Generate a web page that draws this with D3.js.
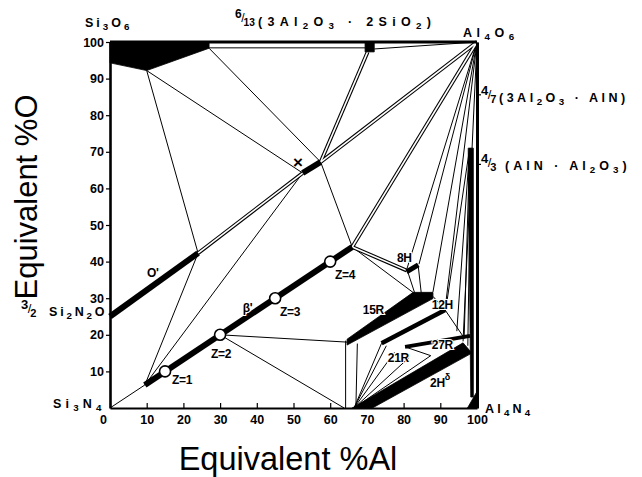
<!DOCTYPE html>
<html>
<head>
<meta charset="utf-8">
<script src="https://cdn.jsdelivr.net/npm/d3@7"></script>
<style>
  body { margin: 0; background: #fff; }
  svg { display: block; font-family: "Liberation Sans", Arial, sans-serif; }
</style>
</head>
<body>
<svg id="chart"></svg>
<script>
// Si-Al-O-N behaviour diagram, compositions as [equivalent %Al, equivalent %O]
const xTicks = [0, 10, 20, 30, 40, 50, 60, 70, 80, 90, 100];
const yTicks = [10, 20, 30, 40, 50, 60, 70, 80, 90, 100];
const rightMarks = [66.7, 85.7];

// filled single phase areas
const liquid = [[0, 100], [27, 100], [27, 98.3], [10, 92.2], [0, 94.3]];
const mullite = [[69.5, 97.3], [72, 97.3], [72, 100], [69.5, 100]];
const poly15R = [[64.6, 18.8], [82.6, 31.6], [88, 31.6], [88, 29.9], [64.6, 17.2]];
const poly2H = [[66, 0], [71.5, 0], [98.6, 15], [96.2, 17.8]];
const polyRight = [[97.6, 71], [99, 71], [99, 3], [98.3, 3]];
const aln = [[97.4, 0], [100, 0], [100, 4.5]];

// narrow single phase lines
const oPrime = [[0, 25], [24, 42.3]];
const betaPrime = [[9.5, 6.3], [66, 44]];
const xPhase = [[52.5, 64.2], [57.4, 67.2]];
const ph8H = [[80.8, 37.2], [84, 39.1]];
const ph12H = [[74, 17.7], [91.3, 26.8]];
const ph27R = [[80.4, 16.7], [98.1, 19.7]];

// zeta compositions of beta'
const zValues = [1, 2, 3, 4];
const zPoints = [[15, 10], [30, 20], [45, 30], [60, 40]];

// two phase tie lines
const tieLines = [
  [[10, 92.2], [24, 42.3]],
  [[10, 92.2], [52.5, 64.2]],
  [[27, 98.3], [57.4, 67.2]],
  [[57.4, 67.2], [66, 44]],
  [[0, 0], [9.5, 6.3]],
  [[9.5, 6.3], [24, 42.3]],
  [[9.5, 6.3], [52.5, 64.2]],
  [[30, 20], [64.6, 18]],
  [[30, 20], [63.8, 0]],
  [[66, 44], [82.8, 31.4]],
  [[64.2, 18.4], [64.2, 0]],
  [[67.4, 17.6], [67, 0]],
  [[66.5, 0], [74, 17.7]],
  [[66.5, 0], [75.3, 17]],
  [[66.5, 0], [77.5, 15.2]],
  [[66.5, 0], [81.5, 13.8]],
  [[66.5, 0], [87.4, 14.3]],
  [[80.4, 16.7], [87.4, 14.3]],
  [[81.2, 37], [83, 31.5]],
  [[84, 38.7], [84.8, 31.5]],
  [[88, 30.5], [91.3, 26.8]],
  [[91.3, 26.8], [96.6, 19]],
  [[27, 98.4], [69.5, 98.4]],
  [[72, 98.1], [100, 100]],
  [[100, 100], [80.9, 38]],
  [[100, 100], [84.2, 39.3]],
  [[100, 100], [88, 31.7]],
  [[100, 100], [91.3, 27]],
  [[100, 100], [96.2, 18.2]],
  [[98, 71], [91.5, 27]],
  [[98, 71], [94.5, 21]],
  [[98, 71], [96.5, 19.2]],
  [[98.3, 71], [97.5, 17]]
];

// tie line bundles drawn as double lines
const doubleLines = [
  [[70.2, 97.3], [57.4, 67.2]],
  [[57.4, 67.2], [100, 100]],
  [[52.5, 64.2], [24, 42.3]],
  [[66, 44], [100, 100]],
  [[66, 44], [80.8, 37.6]]
];

// phase names at [%Al, %O]
const phaseLabels = [
  ["O'", 10.1, 35.8], ["β'", 36.2, 26.2],
  ["Z=1", 16.9, 6.6], ["Z=2", 27.5, 13.7], ["Z=3", 46.3, 25.1], ["Z=4", 61.3, 35.2],
  ["8H", 78.2, 39.9], ["15R", 68.9, 25.7], ["12H", 87.7, 27.0],
  ["21R", 75.7, 12.6], ["27R", 87.7, 16.1]
];

let width = 642;
let height = 477;

const svg = d3.select('#chart')
  .attr('width', width)
  .attr('height', height);

const x = d3.scaleLinear().domain([0, 100]).range([110, 477]);
const y = d3.scaleLinear().domain([0, 100]).range([408, 42]);
const line = d3.line().x(d => x(d[0])).y(d => y(d[1]));

// thin tie lines
svg.append('g')
  .selectAll('path')
  .data(tieLines)
  .enter()
  .append('path')
  .attr('d', line)
  .attr('fill', 'none')
  .attr('stroke', '#000')
  .attr('stroke-width', 1);

// double lines: black then white core
let dbl = svg.append('g');
dbl.selectAll('path.outer')
  .data(doubleLines)
  .enter()
  .append('path')
  .attr('class', 'outer')
  .attr('d', line)
  .attr('stroke', '#000')
  .attr('stroke-width', 3.8);
dbl.selectAll('path.inner')
  .data(doubleLines)
  .enter()
  .append('path')
  .attr('class', 'inner')
  .attr('d', line)
  .attr('stroke', '#fff')
  .attr('stroke-width', 1.6);

// filled areas
svg.append('g')
  .selectAll('path')
  .data([liquid, mullite, poly15R, poly2H, polyRight, aln])
  .enter()
  .append('path')
  .attr('d', d => line(d) + 'Z')
  .attr('fill', '#000')
  .attr('stroke', '#000')
  .attr('stroke-width', 0.8);

// thick single phase lines
const bandWidths = [6, 6, 6, 5, 4.5, 4];
svg.append('g')
  .selectAll('path')
  .data([oPrime, betaPrime, xPhase, ph8H, ph12H, ph27R])
  .enter()
  .append('path')
  .attr('d', line)
  .attr('stroke', '#000')
  .attr('stroke-width', (d, i) => bandWidths[i]);

// axes
let xAxis = svg.append('g')
  .attr('transform', 'translate(0,408)')
  .call(d3.axisBottom(x).tickValues(xTicks).tickSize(-5).tickSizeOuter(0).tickPadding(7));
xAxis.selectAll('text').filter(d => d === 0).attr('x', -7);

let yAxis = svg.append('g')
  .attr('transform', 'translate(110,0)')
  .call(d3.axisLeft(y).tickValues(yTicks).tickSize(4).tickSizeOuter(0).tickPadding(2));

let rAxis = svg.append('g')
  .attr('transform', 'translate(477,0)')
  .call(d3.axisRight(y).tickValues(rightMarks).tickFormat('').tickSize(4).tickSizeOuter(0));

svg.selectAll('.tick text')
  .attr('font-family', '"Liberation Sans", Arial, sans-serif')
  .attr('font-size', 12.5)
  .attr('font-weight', 'bold')
  .attr('fill', '#000');
svg.selectAll('.tick line').attr('stroke-width', 1.2);
xAxis.select('.domain').attr('stroke-width', 2);
yAxis.select('.domain').attr('stroke-width', 2.6);
rAxis.select('.domain').attr('stroke-width', 3);

svg.append('path')
  .attr('d', line([[0, 100], [100, 100]]))
  .attr('stroke', '#000')
  .attr('stroke-width', 3);

// Z circles
svg.append('g')
  .selectAll('circle')
  .data(zPoints)
  .enter()
  .append('circle')
  .attr('cx', d => x(d[0]))
  .attr('cy', d => y(d[1]))
  .attr('r', 5.5)
  .attr('fill', '#fff')
  .attr('stroke', '#000')
  .attr('stroke-width', 1.6);

// phase labels
svg.append('g')
  .selectAll('text')
  .data(phaseLabels)
  .enter()
  .append('text')
  .attr('x', d => x(d[1]))
  .attr('y', d => y(d[2]))
  .attr('font-size', 12)
  .attr('font-weight', 'bold')
  .attr('letter-spacing', -0.3)
  .attr('stroke', '#fff')
  .attr('stroke-width', 2)
  .attr('paint-order', 'stroke')
  .text(d => d[0]);

let hd = svg.append('text')
  .attr('x', x(87.2))
  .attr('y', y(5.7))
  .attr('font-size', 12)
  .attr('font-weight', 'bold')
  .attr('letter-spacing', -0.3);
hd.append('tspan').text('2H');
hd.append('tspan').attr('dy', -7).attr('font-size', 9).text('δ');

svg.append('text')
  .attr('x', x(51.2))
  .attr('y', y(67.2))
  .attr('dy', '0.35em')
  .attr('text-anchor', 'middle')
  .attr('font-size', 17)
  .attr('font-weight', 'bold')
  .text('×');

// chemical formula labels: _x subscript, {..} groups
function chem(sel, str) {
  let parts = str.split(/(_(?:\{[^}]*\}|.))/).filter(s => s.length);
  let shift = 0;
  parts.forEach(p => {
    let t = sel.append('tspan');
    let target = 0;
    let txt = p;
    if (p[0] === '_') {
      target = 3;
      txt = p.slice(1).replace(/[{}]/g, '');
      t.attr('font-size', '0.78em');
    }
    t.attr('dy', target - shift).text(txt);
    shift = target;
  });
}

// fraction prefix as one text: numerator up, slash, denominator down
function fraction(num, den, px, py, size) {
  let t = svg.append('text')
    .attr('x', px)
    .attr('y', py)
    .attr('font-size', size)
    .attr('font-weight', 'bold');
  t.append('tspan').attr('dy', -4).text(num);
  t.append('tspan').attr('dx', -0.5).attr('dy', 4).attr('font-weight', 'normal').text('/');
  t.append('tspan').attr('dx', -1).attr('dy', 4).attr('font-size', size * 0.85).text(den);
}

const formulas = [
  ['Si_3O_6', 85, 27, 3],
  ['(3Al_2O_3 · 2SiO_2)', 258, 26, 5.3],
  ['Al_4O_6', 463, 37, 4.5],
  ['(3Al_2O_3 · AlN)', 499, 102, 3.5],
  ['(AlN · Al_2O_3)', 505, 170, 4],
  ['Si_2N_2O', 49, 316, 2.8],
  ['Si_3N_4', 53, 408, 4.2],
  ['Al_4N_4', 485, 413, 3.2]
];
formulas.forEach(f => {
  let t = svg.append('text')
    .attr('x', f[1])
    .attr('y', f[2])
    .attr('font-size', 12.5)
    .attr('font-weight', 'bold')
    .attr('letter-spacing', f[3]);
  chem(t, f[0]);
});

fraction('6', '13', 235, 22, 12);
fraction('4', '7', 481, 99, 13);
fraction('4', '3', 481, 167, 13);
fraction('3', '2', 21, 313, 13);

// axis titles
svg.append('text')
  .attr('x', 288)
  .attr('y', 470)
  .attr('text-anchor', 'middle')
  .attr('font-size', 32.5)
  .text('Equivalent %Al');

svg.append('text')
  .attr('transform', 'translate(37,197) rotate(-90)')
  .attr('text-anchor', 'middle')
  .attr('font-size', 31)
  .text('Equivalent %O');
</script>
</body>
</html>
